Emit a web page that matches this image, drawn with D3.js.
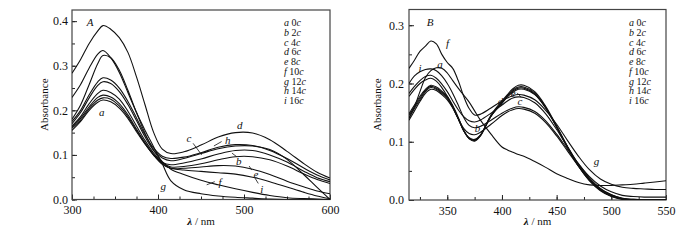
<!DOCTYPE html>
<html>
<head>
<meta charset="utf-8">
<script src="https://cdn.jsdelivr.net/npm/d3@7"></script>
<style>
  body { margin: 0; background: #fff; }
  text { font-family: "Liberation Serif", "Times New Roman", serif; fill: #111; }
</style>
</head>
<body>
<script>
// ---- panel A data (wavelength, nm / absorbance) ----
const waveA = [300, 310, 320, 330, 336, 345, 355, 365, 375, 385, 395, 405, 415, 430, 450, 470, 490, 510, 530, 550, 570, 585, 600]
const aA = [0.155, 0.175, 0.2, 0.218, 0.223, 0.219, 0.205, 0.182, 0.152, 0.124, 0.1, 0.083, 0.078, 0.082, 0.091, 0.102, 0.11, 0.11, 0.1, 0.084, 0.063, 0.049, 0.04]
const bA = [0.165, 0.186, 0.215, 0.238, 0.245, 0.24, 0.225, 0.198, 0.165, 0.132, 0.104, 0.083, 0.073, 0.074, 0.08, 0.089, 0.096, 0.096, 0.089, 0.075, 0.057, 0.045, 0.036]
const cA = [0.17, 0.195, 0.228, 0.256, 0.264, 0.26, 0.242, 0.213, 0.177, 0.14, 0.11, 0.093, 0.087, 0.092, 0.103, 0.114, 0.12, 0.12, 0.112, 0.09, 0.055, 0.027, 0.0]
const dA = [0.283, 0.314, 0.35, 0.378, 0.39, 0.382, 0.363, 0.33, 0.275, 0.212, 0.15, 0.113, 0.103, 0.107, 0.122, 0.14, 0.15, 0.149, 0.134, 0.108, 0.08, 0.061, 0.048]
const eA = [0.162, 0.182, 0.208, 0.229, 0.234, 0.23, 0.215, 0.19, 0.158, 0.127, 0.1, 0.08, 0.07, 0.07, 0.073, 0.076, 0.075, 0.068, 0.056, 0.041, 0.028, 0.019, 0.013]
const fA = [0.18, 0.212, 0.258, 0.305, 0.323, 0.318, 0.29, 0.245, 0.195, 0.148, 0.11, 0.085, 0.068, 0.056, 0.043, 0.033, 0.024, 0.016, 0.009, 0.004, 0.002, 0.001, 0]
const gA = [0.229, 0.258, 0.295, 0.326, 0.334, 0.318, 0.285, 0.24, 0.195, 0.155, 0.118, 0.08, 0.042, 0.022, 0.013, 0.008, 0.005, 0.003, 0.001, 0, 0, 0, 0]
const hA = [0.175, 0.2, 0.235, 0.264, 0.273, 0.268, 0.25, 0.22, 0.183, 0.145, 0.115, 0.097, 0.092, 0.095, 0.105, 0.117, 0.123, 0.121, 0.11, 0.092, 0.07, 0.055, 0.044]
const iA = [0.16, 0.178, 0.204, 0.223, 0.228, 0.225, 0.21, 0.186, 0.155, 0.125, 0.099, 0.079, 0.07, 0.066, 0.063, 0.06, 0.057, 0.05, 0.04, 0.028, 0.016, 0.008, 0.002]

// ---- panel B data ----
const waveB = [315, 320, 325, 330, 335, 340, 345, 350, 355, 360, 365, 370, 375, 380, 390, 400, 405, 410, 415, 420, 430, 440, 450, 460, 470, 480, 490, 500, 510, 520, 530, 540, 550]
const aB = [0.148, 0.163, 0.178, 0.19, 0.197, 0.194, 0.187, 0.178, 0.162, 0.142, 0.12, 0.106, 0.102, 0.11, 0.146, 0.17, 0.181, 0.191, 0.197, 0.197, 0.186, 0.161, 0.127, 0.091, 0.059, 0.034, 0.017, 0.007, 0.002, 0, 0, 0, 0]
const bB = [0.145, 0.16, 0.175, 0.188, 0.195, 0.192, 0.185, 0.176, 0.16, 0.14, 0.119, 0.105, 0.101, 0.109, 0.144, 0.168, 0.179, 0.189, 0.194, 0.194, 0.184, 0.159, 0.125, 0.09, 0.058, 0.033, 0.016, 0.006, 0.001, 0, 0, 0, 0]
const cB = [0.178, 0.19, 0.2, 0.206, 0.209, 0.204, 0.193, 0.178, 0.16, 0.14, 0.123, 0.114, 0.112, 0.116, 0.13, 0.145, 0.151, 0.155, 0.157, 0.156, 0.149, 0.133, 0.11, 0.084, 0.058, 0.036, 0.019, 0.009, 0.003, 0.001, 0, 0, 0]
const dB = [0.141, 0.157, 0.172, 0.186, 0.193, 0.19, 0.183, 0.174, 0.159, 0.14, 0.119, 0.106, 0.103, 0.11, 0.144, 0.167, 0.178, 0.187, 0.192, 0.192, 0.182, 0.158, 0.125, 0.09, 0.058, 0.034, 0.017, 0.007, 0.002, 0, 0, 0, 0]
const eB = [0.183, 0.195, 0.205, 0.212, 0.214, 0.209, 0.199, 0.186, 0.17, 0.155, 0.143, 0.136, 0.134, 0.137, 0.149, 0.163, 0.17, 0.175, 0.177, 0.176, 0.167, 0.148, 0.121, 0.091, 0.062, 0.038, 0.02, 0.009, 0.003, 0.001, 0, 0, 0]
const fB = [0.226, 0.24, 0.255, 0.264, 0.273, 0.268, 0.25, 0.236, 0.226, 0.205, 0.178, 0.157, 0.146, 0.147, 0.158, 0.17, 0.175, 0.179, 0.181, 0.18, 0.172, 0.154, 0.13, 0.102, 0.075, 0.052, 0.036, 0.027, 0.022, 0.02, 0.019, 0.018, 0.018]
const gB = [0.14, 0.16, 0.186, 0.21, 0.222, 0.227, 0.226, 0.218, 0.205, 0.192, 0.18, 0.168, 0.153, 0.138, 0.113, 0.091, 0.086, 0.082, 0.078, 0.075, 0.066, 0.056, 0.045, 0.037, 0.03, 0.026, 0.025, 0.025, 0.026, 0.027, 0.029, 0.031, 0.033]
const hB = [0.137, 0.153, 0.169, 0.183, 0.19, 0.188, 0.181, 0.172, 0.158, 0.139, 0.119, 0.107, 0.104, 0.111, 0.144, 0.166, 0.177, 0.185, 0.19, 0.19, 0.181, 0.158, 0.126, 0.092, 0.06, 0.036, 0.018, 0.008, 0.002, 0, 0, 0, 0]
const iB = [0.2, 0.213, 0.22, 0.224, 0.225, 0.222, 0.213, 0.2, 0.183, 0.163, 0.142, 0.128, 0.124, 0.126, 0.137, 0.149, 0.154, 0.158, 0.16, 0.159, 0.152, 0.136, 0.113, 0.087, 0.062, 0.04, 0.024, 0.014, 0.008, 0.006, 0.005, 0.005, 0.005]

// legend and ticks
const legendLetters = ['a', 'b', 'c', 'd', 'e', 'f', 'g', 'h', 'i']
const legendDoses = ['0', '2', '4', '6', '8', '10', '12', '14', '16']
const xTicksA = [300, 400, 500, 600]
const yTicksA = [0, 0.1, 0.2, 0.3, 0.4]
const xTicksB = [350, 400, 450, 500, 550]
const yTicksB = [0, 0.1, 0.2, 0.3]

// curve labels [text, nm, absorbance] and leader lines [nm1, abs1, nm2, abs2]
const labelsA = [['a', 334.5, 0.197], ['c', 436, 0.138], ['h', 481, 0.132], ['d', 495, 0.167], ['b', 494, 0.085],
  ['e', 514, 0.057], ['i', 520.6, 0.024], ['f', 472, 0.04], ['g', 406, 0.031]]
const leadersA = [[440.8, 0.126, 450.8, 0.1], [474, 0.13, 465, 0.12], [491.5, 0.096, 486, 0.104],
  [509, 0.066, 506, 0.075], [516.6, 0.036, 512.8, 0.048], [466, 0.04, 456.6, 0.033]]
const labelsB = [['f', 350.3, 0.269], ['i', 325, 0.226], ['a', 343.3, 0.234], ['b', 377.7, 0.124],
  ['d', 398.7, 0.17], ['e', 410.3, 0.183], ['c', 416.4, 0.169], ['g', 486.4, 0.066]]
const leadersB = [[413.8, 0.184, 417.3, 0.177]]

const W = 700, H = 240
const svg = d3.select('body').append('svg').attr('width', W).attr('height', H)
  .attr('font-family', '"Liberation Serif", "Times New Roman", serif')

function panel (opt) {
  const x = d3.scaleLinear().domain(opt.xDomain).range(opt.xRange)
  const y = d3.scaleLinear().domain(opt.yDomain).range(opt.yRange)
  const g = svg.append('g')
  const [x0, x1] = opt.xRange
  const [y0, y1] = opt.yRange

  // minor ticks (inward), every 25 nm and 0.05
  const minorX = d3.range(Math.ceil(opt.xDomain[0] / 25) * 25, opt.xDomain[1] + 1, 25)
  const minorY = d3.range(0, opt.yDomain[1], 0.05)
  g.append('g').attr('transform', `translate(0,${y0})`)
    .call(d3.axisBottom(x).tickValues(minorX).tickSize(-3).tickFormat(''))
  g.append('g').attr('transform', `translate(${x0},0)`)
    .call(d3.axisLeft(y).tickValues(minorY).tickSize(-3).tickFormat(''))

  // major ticks
  g.append('g').attr('transform', `translate(0,${y0})`)
    .call(d3.axisBottom(x).tickValues(opt.xTicks).tickSize(-5).tickPadding(6).tickFormat(d3.format('d')))
  g.append('g').attr('transform', `translate(${x0},0)`)
    .call(d3.axisLeft(y).tickValues(opt.yTicks).tickSize(-5).tickPadding(opt.yPad).tickFormat(d3.format('.1f')))

  g.selectAll('.domain').remove()
  g.selectAll('.tick line').attr('stroke', '#222')
  g.selectAll('.tick text').attr('font-size', 12).attr('fill', '#111')
    .style('font-family', '"Liberation Serif", serif')

  // frame
  g.append('rect').attr('x', x0).attr('y', y1).attr('width', x1 - x0).attr('height', y0 - y1)
    .attr('fill', 'none').attr('stroke', '#444').attr('stroke-width', 1.2)

  // curves
  const clipId = 'clip' + opt.id
  svg.append('clipPath').attr('id', clipId).append('rect')
    .attr('x', x0).attr('y', y1).attr('width', x1 - x0).attr('height', y0 - y1)
  const line = d3.line()
    .x((d, i) => x(opt.wave[i]))
    .y(d => y(d))
    .curve(d3.curveCatmullRom.alpha(0.5))
  g.append('g').attr('clip-path', `url(#${clipId})`)
    .selectAll('path').data(opt.series).join('path')
    .attr('d', d => line(d))
    .attr('fill', 'none').attr('stroke', '#111').attr('stroke-width', 1.1)

  // leaders + curve labels
  g.selectAll('line.lead').data(opt.leaders).join('line').attr('class', 'lead')
    .attr('x1', d => x(d[0])).attr('y1', d => y(d[1]))
    .attr('x2', d => x(d[2])).attr('y2', d => y(d[3]))
    .attr('stroke', '#111').attr('stroke-width', 0.8)
  g.selectAll('text.lab').data(opt.labels).join('text').attr('class', 'lab')
    .attr('x', d => x(d[1])).attr('y', d => y(d[2])).attr('dy', '0.35em')
    .attr('text-anchor', 'middle').attr('font-size', 11).attr('font-style', 'italic')
    .text(d => d[0])

  // panel letter
  g.append('text').attr('x', opt.tag[0]).attr('y', opt.tag[1]).attr('font-size', 11)
    .attr('font-style', 'italic').attr('text-anchor', 'middle').text(opt.id)

  // legend
  const leg = g.append('g')
  legendLetters.forEach((l, i) => {
    const t = leg.append('text').attr('x', opt.legendX).attr('y', 26.3 + i * 9.7).attr('font-size', 10)
    t.append('tspan').attr('font-style', 'italic').text(l)
    t.append('tspan').text(' ' + legendDoses[i])
    t.append('tspan').attr('font-style', 'italic').text('c')
  })

  // axis titles
  g.append('text').attr('transform', `translate(${opt.yTitleX},${(y0 + y1) / 2}) rotate(-90)`)
    .attr('text-anchor', 'middle').attr('dy', '0.35em').attr('font-size', 11).text('Absorbance')
  const xt = g.append('text').attr('x', (x0 + x1) / 2).attr('y', 225)
    .attr('text-anchor', 'middle').attr('font-size', 11)
  xt.append('tspan').attr('font-style', 'italic').attr('font-weight', 'bold').text('λ')
  xt.append('tspan').text(' / nm')
}

panel({
  id: 'A',
  xDomain: [300, 600], xRange: [72, 330],
  yDomain: [0, 0.425], yRange: [199.5, 10],
  xTicks: xTicksA, yTicks: yTicksA, yPad: 4,
  wave: waveA, series: [aA, bA, cA, dA, eA, fA, gA, hA, iA],
  labels: labelsA, leaders: leadersA,
  tag: [90, 26], legendX: 284, yTitleX: 44
})

panel({
  id: 'B',
  xDomain: [315, 550], xRange: [409, 666],
  yDomain: [0, 0.327], yRange: [200, 9.5],
  xTicks: xTicksB, yTicks: yTicksB, yPad: 5,
  wave: waveB, series: [aB, bB, cB, dB, eB, fB, gB, hB, iB],
  labels: labelsB, leaders: leadersB,
  tag: [430, 26], legendX: 629, yTitleX: 377
})
</script>
</body>
</html>
